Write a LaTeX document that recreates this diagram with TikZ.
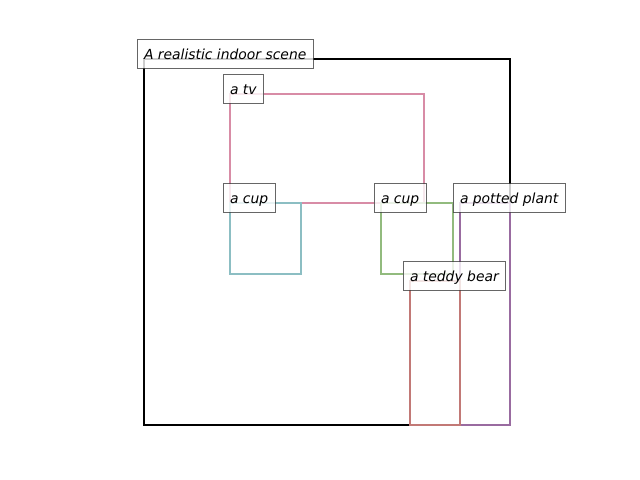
\documentclass[tikz,border=0pt]{standalone}
\usepackage{fontspec}
\setmainfont{DejaVu Sans}
\definecolor{tvpink}{RGB}{216,140,166}
\definecolor{cupteal}{RGB}{140,190,195}
\definecolor{cupgreen}{RGB}{146,187,126}
\definecolor{plantpurple}{RGB}{153,107,160}
\definecolor{bearred}{RGB}{194,121,118}
\tikzset{
	region/.style={line width=1.5pt},
	caption/.style={anchor=text, font=\itshape, fill=white, fill opacity=0.8, text opacity=1,
		draw=black!75, draw opacity=0.8, line width=0.7pt, inner xsep=5pt, inner ysep=5pt,
		text height=8.7pt, text depth=1.5pt}
}
\begin{document}
\begin{tikzpicture}[x=0.72pt, y=-0.72pt]
		\useasboundingbox (0,0) rectangle (640,480);
		% corners of the regions
		\coordinate (scene) at (144,59);
		\coordinate (tv) at (230,94);
		\coordinate (cupa) at (230,203);
		\coordinate (cupb) at (381,203);
		\coordinate (plant) at (460,203);
		\coordinate (bear) at (410,281);
		\draw[region, black] (scene) rectangle (510,425);
		\draw[region, tvpink] (tv) rectangle (424,203);
		\draw[region, cupteal] (cupa) rectangle (301,274);
		\draw[region, cupgreen] (cupb) rectangle (453,274);
		\draw[region, plantpurple] (plant) rectangle (510,425);
		\draw[region, bearred] (bear) rectangle (460,425);
		% captions
		\node[caption] (scenelbl) at (scene) {A realistic indoor scene};
		\node[caption] (tvlbl) at (tv) {a tv};
		\node[caption] (cupalbl) at (cupa) {a cup};
		\node[caption] (cupblbl) at (cupb) {a cup};
		\node[caption] (plantlbl) at (plant) {a potted plant};
		\node[caption] (bearlbl) at (bear) {a teddy bear};
	\end{tikzpicture}
\end{document}
